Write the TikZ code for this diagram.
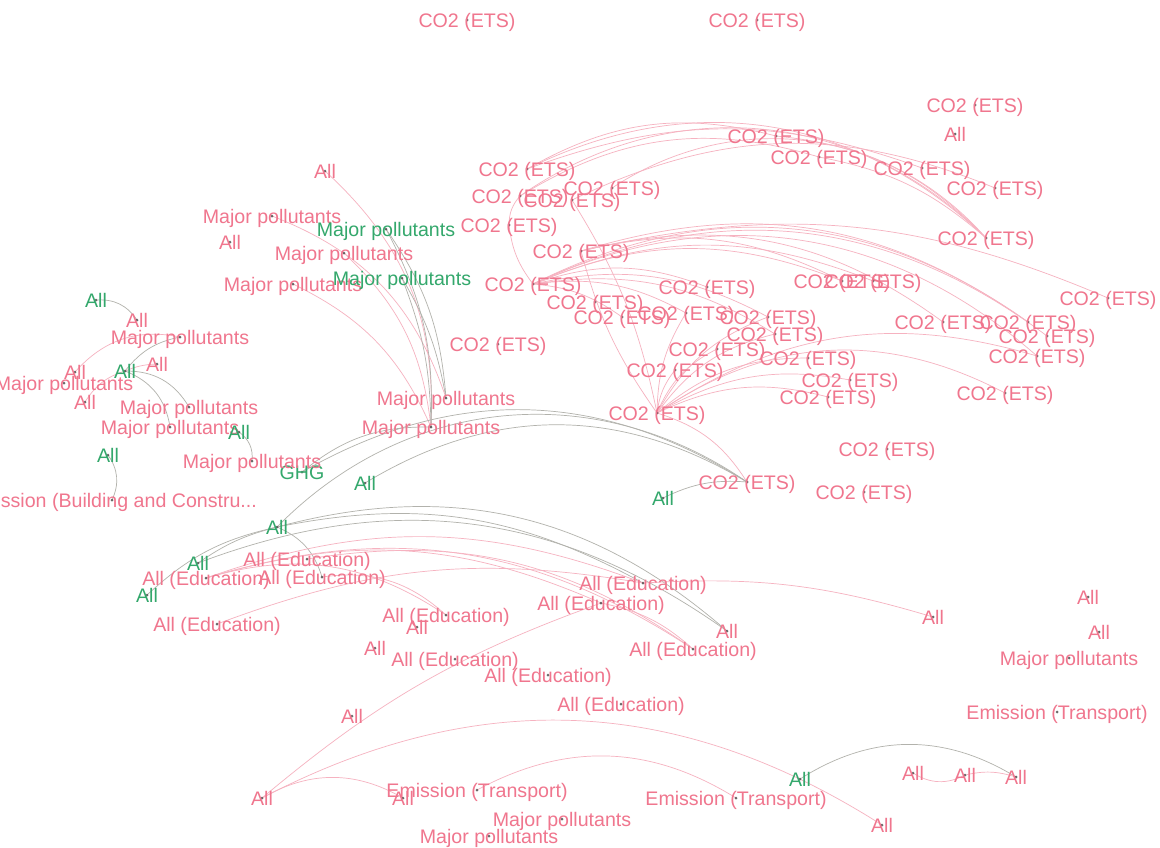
\documentclass[tikz,border=0pt]{standalone}
\usepackage{fontspec}
\setmainfont{Liberation Sans}
\usepackage{xcolor}
\usepackage{tikz}
\usetikzlibrary{positioning}

\definecolor{pinkn}{RGB}{240,118,142}
\definecolor{greenn}{RGB}{52,168,108}
\definecolor{pinke}{RGB}{246,178,192}
\definecolor{graye}{RGB}{178,178,172}
\definecolor{dotc}{RGB}{70,70,70}

\pgfdeclarelayer{background}
\pgfsetlayers{background,main}

\begin{document}
\begin{tikzpicture}[x=0.5pt, y=-0.5pt,
    lbl/.style={inner sep=0pt, text height=7pt, text depth=0pt, font=\fontsize{9.8}{10}\selectfont,
        append after command={\pgfextra{\fill[dotc, opacity=0.8] (\tikzlastnode.center) circle (0.75pt);}}},
    pk/.style={lbl, text=pinkn},
    gn/.style={lbl, text=greenn},
    pe/.style={draw=pinke, line width=0.35pt},
    ge/.style={draw=graye, line width=0.35pt}]
    \useasboundingbox (0,0) rectangle (1160,847);

    % CO2 (ETS) cluster
    \node[pk] (ca) at (467,20) {CO2 (ETS)};
    \node[pk] (cb) at (757,20) {CO2 (ETS)};
    \node[pk] (c1) at (975,105) {CO2 (ETS)};
    \node[pk] (al1) at (955,134) {All};
    \node[pk] (c2) at (776,136) {CO2 (ETS)};
    \node[pk] (c3) at (819,157) {CO2 (ETS)};
    \node[pk] (c4) at (922,168) {CO2 (ETS)};
    \node[pk] (c5) at (995,188) {CO2 (ETS)};
    \node[pk] (c6) at (527,169) {CO2 (ETS)};
    \node[pk] (c7) at (520,196) {CO2 (ETS)};
    \node[pk] (c8) at (612,188) {CO2 (ETS)};
    \node[pk] (c9) at (572,200) {CO2 (ETS)};
    \node[pk] (c10) at (509,225) {CO2 (ETS)};
    \node[pk] (c11) at (581,251) {CO2 (ETS)};
    \node[pk] (c12) at (986,238) {CO2 (ETS)};
    \node[pk] (c13) at (533,284) {CO2 (ETS)};
    \node[pk] (c14) at (707,287) {CO2 (ETS)};
    \node[pk] (c15) at (842,281) {CO2 (ETS)};
    \node[pk] (c16) at (873,281) {CO2 (ETS)};
    \node[pk] (c17) at (1108,298) {CO2 (ETS)};
    \node[pk] (c18) at (595,302) {CO2 (ETS)};
    \node[pk] (c19) at (622,317) {CO2 (ETS)};
    \node[pk] (c20) at (686,313) {CO2 (ETS)};
    \node[pk] (c21) at (768,317) {CO2 (ETS)};
    \node[pk] (c22) at (775,334) {CO2 (ETS)};
    \node[pk] (c23) at (943,322) {CO2 (ETS)};
    \node[pk] (c24) at (1028,322) {CO2 (ETS)};
    \node[pk] (c25) at (1047,336) {CO2 (ETS)};
    \node[pk] (c26) at (1037,356) {CO2 (ETS)};
    \node[pk] (c27) at (498,344) {CO2 (ETS)};
    \node[pk] (c28) at (717,349) {CO2 (ETS)};
    \node[pk] (c29) at (808,358) {CO2 (ETS)};
    \node[pk] (c30) at (675,370) {CO2 (ETS)};
    \node[pk] (c31) at (850,380) {CO2 (ETS)};
    \node[pk] (c32) at (828,397) {CO2 (ETS)};
    \node[pk] (c33) at (1005,393) {CO2 (ETS)};
    \node[pk] (c34) at (657,413) {CO2 (ETS)};
    \node[pk] (c35) at (887,449) {CO2 (ETS)};
    \node[pk] (c36) at (747,482) {CO2 (ETS)};
    \node[pk] (c37) at (864,492) {CO2 (ETS)};

    % Major pollutants
    \node[pk] (pa1) at (325,171) {All};
    \node[pk] (mp1) at (272,216) {Major pollutants};
    \node[pk] (pa2) at (230,242) {All};
    \node[gn] (mg1) at (386,229) {Major pollutants};
    \node[pk] (mp2) at (344,253) {Major pollutants};
    \node[pk] (mp3) at (293,284) {Major pollutants};
    \node[gn] (mg2) at (402,278) {Major pollutants};
    \node[pk] (mp4) at (446,398) {Major pollutants};
    \node[pk] (mp5) at (431,427) {Major pollutants};
    \node[gn] (ghg) at (302,472) {GHG};
    \node[gn] (ga1) at (365,483) {All};
    \node[gn] (ga2) at (663,498) {All};

    % left group
    \node[gn] (ga3) at (96,300) {All};
    \node[pk] (pa3) at (137,320) {All};
    \node[pk] (mp6) at (180,337) {Major pollutants};
    \node[pk] (pa4) at (157,364) {All};
    \node[pk] (pa5) at (75,372) {All};
    \node[gn] (ga4) at (125,371) {All};
    \node[pk] (mp7) at (64,383) {Major pollutants};
    \node[pk] (pa6) at (85,402) {All};
    \node[pk] (mp8) at (189,407) {Major pollutants};
    \node[pk] (mp9) at (170,427) {Major pollutants};
    \node[gn] (ga5) at (239,432) {All};
    \node[pk] (mp10) at (252,461) {Major pollutants};
    \node[gn] (ga6) at (108,455) {All};
    \node[pk] (eb) at (112,500) {Emission (Building and Constru...};

    % education group
    \node[gn] (ga7) at (277,527) {All};
    \node[gn] (ga8) at (198,563) {All};
    \node[pk] (ed1) at (206,578) {All (Education)};
    \node[pk] (ed2) at (307,559) {All (Education)};
    \node[pk] (ed3) at (322,577) {All (Education)};
    \node[gn] (ga9) at (147,595) {All};
    \node[pk] (ed4) at (217,624) {All (Education)};
    \node[pk] (ed5) at (643,583) {All (Education)};
    \node[pk] (ed6) at (601,603) {All (Education)};
    \node[pk] (ed7) at (446,615) {All (Education)};
    \node[pk] (pa7) at (417,627) {All};
    \node[pk] (pa8) at (375,648) {All};
    \node[pk] (ed8) at (455,659) {All (Education)};
    \node[pk] (ed9) at (548,675) {All (Education)};
    \node[pk] (pa9) at (727,631) {All};
    \node[pk] (ed10) at (693,649) {All (Education)};
    \node[pk] (ed11) at (621,704) {All (Education)};
    \node[pk] (pa10) at (352,716) {All};
    \node[pk] (pa11) at (933,617) {All};

    % right and bottom
    \node[pk] (pa12) at (1088,597) {All};
    \node[pk] (pa13) at (1099,632) {All};
    \node[pk] (mp11) at (1069,658) {Major pollutants};
    \node[pk] (et1) at (1057,712) {Emission (Transport)};
    \node[pk] (pa14) at (262,798) {All};
    \node[pk] (pa15) at (403,798) {All};
    \node[pk] (et2) at (477,790) {Emission (Transport)};
    \node[pk] (mp12) at (562,819) {Major pollutants};
    \node[pk] (mp13) at (489,836) {Major pollutants};
    \node[gn] (ga10) at (800,779) {All};
    \node[pk] (et3) at (736,798) {Emission (Transport)};
    \node[pk] (pa16) at (882,825) {All};
    \node[pk] (pa17) at (913,773) {All};
    \node[pk] (pa18) at (965,775) {All};
    \node[pk] (pa19) at (1016,777) {All};

    \begin{pgfonlayer}{background}
    \fill[white] (0,0) rectangle (1160,847);
    % upper arcs
    \draw[pe] (c7.center) to[bend left=40] (c12.center);
    \draw[pe] (c6.center) to[bend left=35] (c12.center);
    \draw[pe] (c8.center) to[bend left=41] (c12.center);
    \draw[pe] (c6.center) to[bend left=20] (c4.center);
    \draw[pe] (c6.center) to[bend left=22] (c2.center);
    \draw[pe] (c7.center) to[bend left=24] (c3.center);
    \draw[pe] (c9.center) to[bend left=24] (c5.center);
    \draw[pe] (c2.center) to[bend left=20] (c12.center);
    \draw[pe] (c3.center) to[bend left=15] (c12.center);
    \draw[pe] (c7.center) to[bend right=20] (c10.center);
    \draw[pe] (c10.center) to[bend right=15] (c13.center);
    \draw[pe] (c9.center) to[bend left=10] (c34.center);
    \draw[pe] (c11.center) to[bend right=10] (c34.center);
    % middle arcs
    \draw[pe] (c13.center) to[bend left=31] (c24.center);
    \draw[pe] (c13.center) to[bend left=31] (c25.center);
    \draw[pe] (c13.center) to[bend left=33] (c26.center);
    \draw[pe] (c13.center) to[bend left=22] (c16.center);
    \draw[pe] (c13.center) to[bend left=22] (c15.center);
    \draw[pe] (c13.center) to[bend left=20] (c21.center);
    \draw[pe] (c13.center) to[bend left=20] (c22.center);
    \draw[pe] (c13.center) to[bend left=18] (c20.center);
    \draw[pe] (c13.center) to[bend left=15] (c19.center);
    \draw[pe] (c13.center) to[bend left=20] (c14.center);
    \draw[pe] (c11.center) to[bend left=26] (c24.center);
    \draw[pe] (c11.center) to[bend left=25] (c23.center);
    \draw[pe] (c11.center) to[bend left=18] (c17.center);
    \draw[pe] (c11.center) to[bend left=20] (c15.center);
    \draw[pe] (c34.center) to[bend left=20] (c28.center);
    \draw[pe] (c34.center) to[bend left=15] (c30.center);
    \draw[pe] (c34.center) to[bend left=20] (c29.center);
    \draw[pe] (c34.center) to[bend left=20] (c31.center);
    \draw[pe] (c34.center) to[bend left=20] (c32.center);
    \draw[pe] (c34.center) to[bend left=31] (c33.center);
    \draw[pe] (c34.center) to[bend left=15] (c20.center);
    \draw[pe] (c34.center) to[bend left=20] (c22.center);
    \draw[pe] (c34.center) to[bend left=20] (c21.center);
    \draw[pe] (c34.center) to[bend left=25] (c26.center);
    \draw[pe] (c34.center) to[bend left=20] (c36.center);
    % into the major pollutants pair
    \draw[pe] (pa1.center) to[bend left=25] (mp5.center);
    \draw[pe] (mp1.center) to[bend left=25] (mp4.center);
    \draw[pe] (mp2.center) to[bend left=20] (mp5.center);
    \draw[pe] (mp3.center) to[bend left=20] (mp5.center);
    \draw[ge] (mg1.center) to[bend left=15] (mp4.center);
    \draw[ge] (mg1.center) to[bend left=15] (mp5.center);
    \draw[ge] (mg2.center) to[bend left=10] (mp4.center);
    \draw[ge] (mg2.center) to[bend left=10] (mp5.center);
    \draw[ge] (ghg.center) to[bend left=20] (mp5.center);
    \draw[ge] (ghg.center) to[bend left=31] (c36.center);
    \draw[ge] (ga1.center) to[bend left=31] (c36.center);
    \draw[ge] (ga7.center) to[bend left=40] (c36.center);
    \draw[ge] (ga2.center) to[bend left=15] (c36.center);
    % left group
    \draw[ge] (ga3.center) to[bend left=30] (pa3.center);
    \draw[pe] (pa5.center) to[bend left=30] (mp6.center);
    \draw[ge] (ga4.center) to[bend left=20] (mp6.center);
    \draw[pe] (ga4.center) to[bend left=10] (pa4.center);
    \draw[pe] (pa6.center) to[bend left=20] (ga4.center);
    \draw[ge] (ga4.center) to[bend left=30] (mp8.center);
    \draw[ge] (ga4.center) to[bend left=30] (mp9.center);
    \draw[ge] (ga5.center) to[bend left=30] (mp10.center);
    \draw[ge] (ga6.center) to[bend left=30] (eb.center);
    % education group
    \draw[ge] (ga9.center) to[bend left=15] (ga7.center);
    \draw[ge] (ga8.center) to[bend left=10] (ga7.center);
    \draw[ge] (ga7.center) to[bend left=25] (ed3.center);
    \draw[ge] (ga7.center) to[bend left=28] (pa9.center);
    \draw[ge] (ga8.center) to[bend left=28] (pa9.center);
    \draw[ge] (ga7.center) to[bend left=20] (ed5.center);
    \draw[pe] (ed1.center) to[bend left=20] (ed5.center);
    \draw[pe] (ed1.center) to[bend left=25] (ed10.center);
    \draw[pe] (ed1.center) to[bend left=20] (ed6.center);
    \draw[pe] (ed2.center) to[bend left=22] (ed10.center);
    \draw[pe] (ed3.center) to[bend left=25] (ed7.center);
    \draw[pe] (ed1.center) to[bend left=25] (ed7.center);
    \draw[pe] (ed4.center) to[bend left=15] (ed5.center);
    \draw[pe] (ed5.center) to[bend left=10] (pa11.center);
    \draw[pe] (ed6.center) to[bend left=15] (ed10.center);
    % bottom
    \draw[pe] (pa14.center) to[bend left=10] (ed6.center);
    \draw[pe] (pa14.center) to[bend left=30] (pa16.center);
    \draw[pe] (pa14.center) to[bend left=30] (pa15.center);
    \draw[pe] (et2.center) to[bend left=30] (et3.center);
    \draw[ge] (ga10.center) to[bend left=32] (pa19.center);
    \draw[pe] (pa17.center) to[bend right=30] (pa18.center);
    \draw[pe] (pa18.center) to[bend left=15] (pa19.center);
    \end{pgfonlayer}
\end{tikzpicture}
\end{document}
